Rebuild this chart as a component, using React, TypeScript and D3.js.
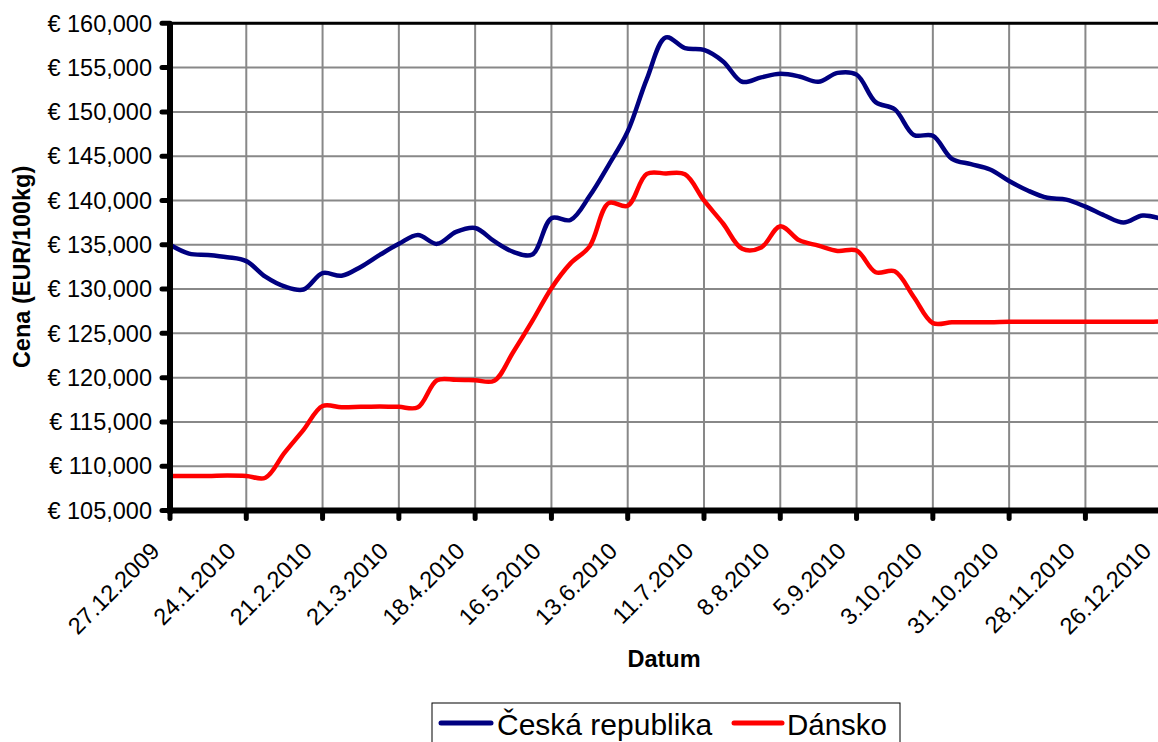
import React from "react";
import * as d3 from "d3";

const tickLabels = [
  "27.12.2009", "24.1.2010", "21.2.2010", "21.3.2010", "18.4.2010", "16.5.2010",
  "13.6.2010", "11.7.2010", "8.8.2010", "5.9.2010", "3.10.2010", "31.10.2010",
  "28.11.2010", "26.12.2010",
];

const ceskaRepublika = [
  135000, 134000, 133850, 133600, 133150, 131400, 130300, 129950, 131800, 131500,
  132500, 133850, 135100, 136100, 135100, 136450, 136900, 135400, 134200, 133900,
  138000, 137800, 140500, 144000, 147800, 153700, 158400, 157200, 157000, 155700,
  153400, 153900, 154300, 154000, 153400, 154400, 154200, 151100, 150300, 147400,
  147300, 144700, 144100, 143500, 142200, 141100, 140300, 140100, 139300, 138300,
  137500, 138300, 137900,
];

const dansko = [
  108900, 108900, 108900, 108950, 108900, 108700, 111500, 114100, 116800, 116650,
  116700, 116750, 116700, 116650, 119700, 119750, 119700, 119650, 122900, 126400,
  130100, 132900, 134800, 139700, 139400, 143000, 143050, 142950, 140000, 137400,
  134550, 134700, 137100, 135500, 134900, 134300, 134350, 131900, 132000, 129100,
  126150, 126250, 126250, 126250, 126300, 126300, 126300, 126300, 126300, 126300,
  126300, 126300, 126350,
];

const yTicks = [105000, 110000, 115000, 120000, 125000, 130000, 135000, 140000, 145000, 150000, 155000, 160000];

const seriesNames = ["Česká republika", "Dánsko"];
const seriesColors = ["#000080", "#FF0000"];

const FONT = "'Liberation Sans', Arial, sans-serif";

export default function App() {
  const W = 1158, H = 742;
  const left = 170, right = 1161.7, top = 23.3, bottom = 510.5;
  const nWeeks = ceskaRepublika.length - 1;
  const x = d3.scaleLinear().domain([0, nWeeks]).range([left, right]);
  const y = d3.scaleLinear().domain([105000, 160000]).range([bottom, top]);
  const line = d3
    .line<number>()
    .x((_, i) => x(i))
    .y((d) => y(d))
    .curve(d3.curveCatmullRom.alpha(0.5));
  const tickIdx = tickLabels.map((_, i) => i * 4);
  const fmt = d3.format(",");
  const series = [ceskaRepublika, dansko];

  return (
    <svg
      width={W}
      height={H}
      style={{ position: "absolute", left: 0, top: 0, background: "#fff" }}
      fontFamily={FONT}
    >
      <rect x={0} y={0} width={W} height={H} fill="#fff" />
      {yTicks.map((t) => (
        <line key={"gy" + t} x1={left} x2={W} y1={y(t)} y2={y(t)} stroke="#888" strokeWidth={2} />
      ))}
      {tickIdx.map((t) => (
        <line key={"gx" + t} x1={x(t)} x2={x(t)} y1={top} y2={bottom} stroke="#888" strokeWidth={2} />
      ))}
      <line x1={left} x2={W} y1={top} y2={top} stroke="#000" strokeWidth={3} />
      {series.map((s, k) => (
        <path key={k} d={line(s) || ""} fill="none" stroke={seriesColors[k]} strokeWidth={4.5} strokeLinejoin="round" />
      ))}
      <line x1={left} x2={W} y1={bottom} y2={bottom} stroke="#000" strokeWidth={6} />
      <line x1={left} x2={left} y1={top - 1} y2={bottom + 3} stroke="#000" strokeWidth={6} />
      {yTicks.map((t) => (
        <g key={"ty" + t}>
          <line x1={left} x2={left - 8} y1={y(t)} y2={y(t)} stroke="#000" strokeWidth={5} strokeLinecap="round" />
          <text x={152} y={y(t)} dy="0.35em" textAnchor="end" fontSize={23.5} fill="#000">
            {"€ " + fmt(t)}
          </text>
        </g>
      ))}
      {tickIdx.map((t, i) => (
        <g key={"tx" + t}>
          <line x1={x(t)} x2={x(t)} y1={bottom} y2={bottom + 8} stroke="#000" strokeWidth={5} strokeLinecap="round" />
          <text
            transform={`translate(${x(t) - 9},${bottom + 42}) rotate(-45)`}
            textAnchor="end"
            fontSize={23.5}
            fill="#000"
          >
            {tickLabels[i]}
          </text>
        </g>
      ))}
      <text x={664} y={667} textAnchor="middle" fontSize={23.5} fontWeight="bold">Datum</text>
      <text transform={`translate(30,${(top + bottom) / 2}) rotate(-90)`} textAnchor="middle" fontSize={23.5} fontWeight="bold">
        Cena (EUR/100kg)
      </text>
      <rect x={432} y={703} width={468} height={60} fill="#fff" stroke="#000" strokeWidth={1} />
      <line x1={441} x2={491} y1={723} y2={723} stroke={seriesColors[0]} strokeWidth={5} strokeLinecap="round" />
      <text x={497} y={735} fontSize={30} fill="#000">{seriesNames[0]}</text>
      <line x1={734} x2={782} y1={723} y2={723} stroke={seriesColors[1]} strokeWidth={5} strokeLinecap="round" />
      <text x={787} y={735} fontSize={29.5} fill="#000">{seriesNames[1]}</text>
    </svg>
  );
}
